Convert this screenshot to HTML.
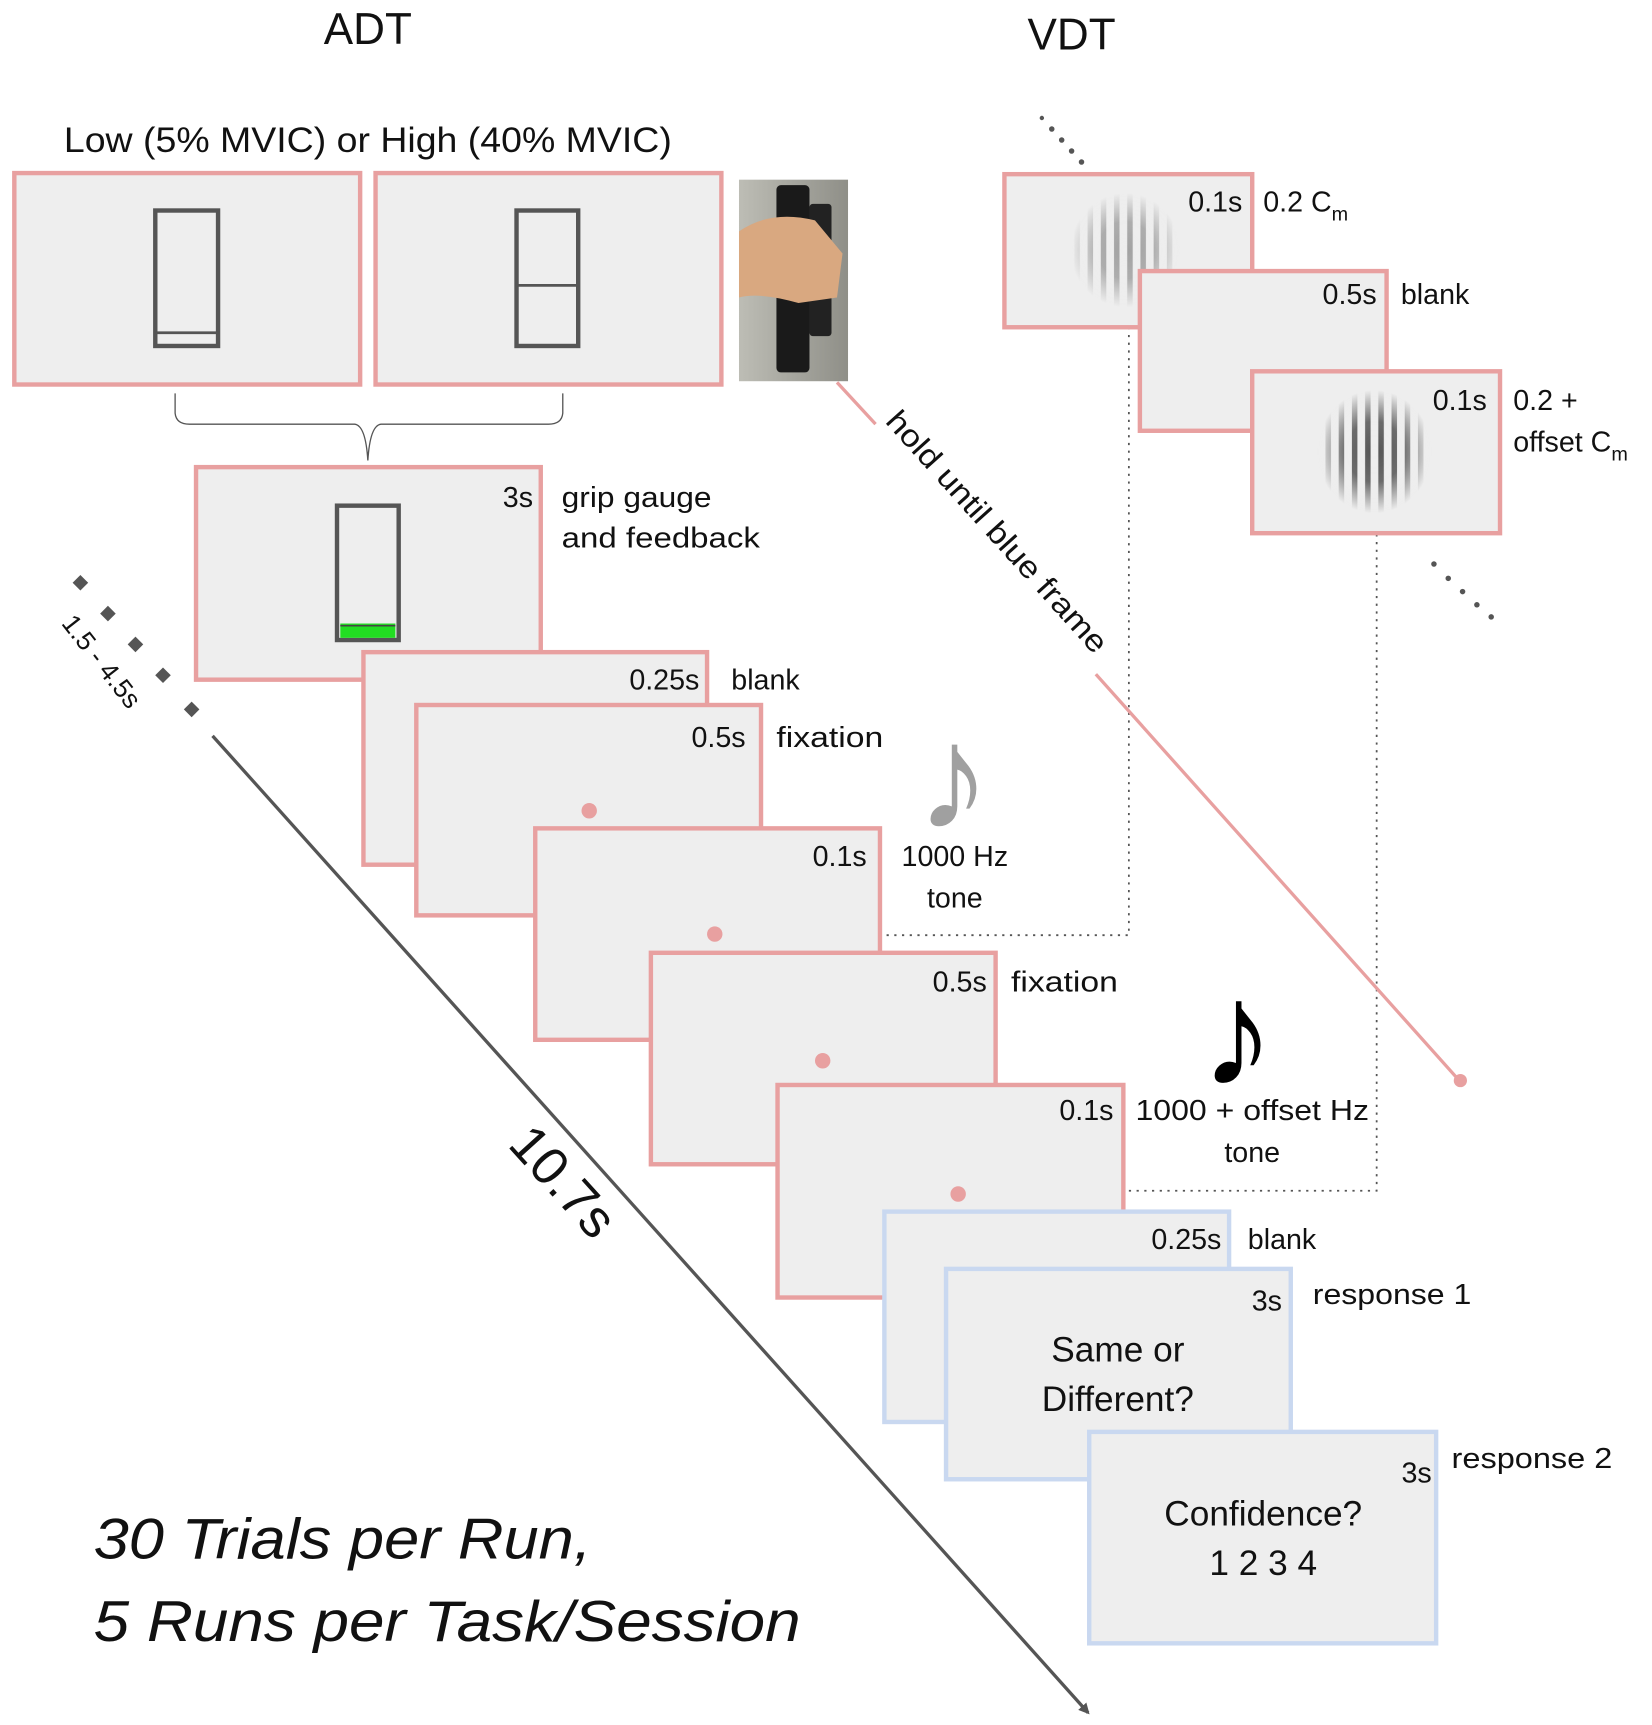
<!DOCTYPE html>
<html><head><meta charset="utf-8"><style>
html,body{margin:0;padding:0;background:#fff;}
svg{display:block;}
text{font-family:"Liberation Sans","DejaVu Sans",sans-serif;fill:#111;}
</style></head><body>
<svg width="1652" height="1725" viewBox="0 0 1500 1566" xmlns="http://www.w3.org/2000/svg">
<defs>
<pattern id="stripes" width="12" height="20" patternUnits="userSpaceOnUse">
<rect width="12" height="20" fill="#eee"/>
<rect x="3.5" width="5" height="20" fill="#444"/>
</pattern>
<radialGradient id="fade"><stop offset="0" stop-color="#fff" stop-opacity="1"/><stop offset="0.5" stop-color="#fff" stop-opacity="0.85"/><stop offset="1" stop-color="#fff" stop-opacity="0"/></radialGradient>
<mask id="m1" maskContentUnits="objectBoundingBox"><rect width="1" height="1" fill="url(#fade)"/></mask>
<linearGradient id="photo" x1="0" x2="1"><stop offset="0" stop-color="#bdbdb5"/><stop offset="1" stop-color="#8f8f88"/></linearGradient>
<marker id="arr" markerWidth="10" markerHeight="10" refX="8" refY="5" orient="auto" markerUnits="userSpaceOnUse"><path d="M0,0 L10,5 L0,10 z" fill="#555"/></marker>
</defs>

<text x="334" y="40" font-size="40" text-anchor="middle">ADT</text>
<text x="973" y="45" font-size="40" text-anchor="middle">VDT</text>
<text x="58" y="138" font-size="32" textLength="552" lengthAdjust="spacingAndGlyphs">Low (5% MVIC) or High (40% MVIC)</text>

<g fill="#eeeeee" stroke="#e8a0a0" stroke-width="4">
<rect x="13" y="157" width="314" height="192"/>
<rect x="341" y="157" width="314" height="192"/>
</g>
<g fill="none" stroke="#555" stroke-width="4">
<rect x="141" y="191" width="57" height="123"/><line x1="141" y1="302" x2="198" y2="302" stroke-width="2.5"/>
<rect x="469" y="191" width="56" height="123"/><line x1="469" y1="259" x2="525" y2="259" stroke-width="2.5"/>
</g>
<rect x="671" y="163" width="99" height="183" fill="url(#photo)"/>
<rect x="705" y="168" width="30" height="170" fill="#1a1a1a" rx="4"/>
<rect x="735" y="185" width="20" height="120" fill="#222" rx="3"/>
<path d="M671,210 Q700,190 740,200 L765,230 L760,270 L725,275 Q690,265 671,270 z" fill="#d9a880"/>

<path d="M159,357 L159,375 Q160,385 172,385 L322,385 Q332,386 334,418 Q336,386 346,385 L498,385 Q510,385 511,375 L511,357" fill="none" stroke="#555" stroke-width="1.2"/>

<g fill="none" stroke="#555" stroke-width="1.6" stroke-dasharray="2,5">
<path d="M1025,297 L1025,849 L803,849"/>
<path d="M1250,485 L1250,1081 L1020,1081"/>
</g>

<rect x="912" y="158" width="225" height="139" fill="#eeeeee" stroke="#e8a0a0" stroke-width="4"/>
<g mask="url(#m1)"><ellipse cx="1022" cy="227" rx="50" ry="52" fill="url(#stripes)" opacity="0.45"/></g>
<rect x="1035" y="246" width="224" height="145" fill="#eee" stroke="#e8a0a0" stroke-width="4"/>
<rect x="1137" y="337" width="225" height="147" fill="#eee" stroke="#e8a0a0" stroke-width="4"/>
<g mask="url(#m1)"><ellipse cx="1248" cy="410" rx="52" ry="56" fill="url(#stripes)" opacity="0.9"/></g>
<text x="1128" y="192" font-size="26" text-anchor="end">0.1s</text>
<text x="1147" y="192" font-size="26">0.2 C<tspan font-size="18" dy="8">m</tspan></text>
<text x="1250" y="276" font-size="26" text-anchor="end">0.5s</text>
<text x="1272" y="276" font-size="26">blank</text>
<text x="1350" y="372" font-size="26" text-anchor="end">0.1s</text>
<text x="1374" y="372" font-size="26">0.2 +</text>
<text x="1374" y="410" font-size="26">offset C<tspan font-size="18" dy="8">m</tspan></text>
<g fill="#555">
<circle cx="946" cy="107" r="2"/><circle cx="955" cy="117" r="2.5"/><circle cx="964" cy="127" r="2.5"/><circle cx="973" cy="137" r="2.5"/><circle cx="982" cy="147" r="2.5"/>
<circle cx="1302" cy="512" r="2.5"/><circle cx="1315" cy="525" r="2.5"/><circle cx="1328" cy="537" r="2.5"/><circle cx="1341" cy="549" r="2.5"/><circle cx="1354" cy="560" r="2.5"/>
</g>

<line x1="760" y1="347" x2="795" y2="385" stroke="#e8a0a0" stroke-width="3"/>
<line x1="995" y1="612" x2="1325" y2="981" stroke="#e8a0a0" stroke-width="3"/>
<circle cx="1326" cy="981" r="6" fill="#e8a0a0"/>
<text x="0" y="0" font-size="28" textLength="285" lengthAdjust="spacingAndGlyphs" transform="translate(803,383) rotate(48)">hold until blue frame</text>

<rect x="178" y="424" width="313" height="193" fill="#eeeeee" stroke="#e8a0a0" stroke-width="4"/>
<rect x="306" y="459" width="56" height="122" fill="none" stroke="#555" stroke-width="4"/>
<rect x="309" y="566" width="50" height="13" fill="#22dd22"/>
<line x1="309" y1="568" x2="359" y2="568" stroke="#444" stroke-width="1.5"/>
<text x="484" y="460" font-size="26" text-anchor="end">3s</text>
<text x="510" y="460" font-size="26" textLength="136" lengthAdjust="spacingAndGlyphs">grip gauge</text>
<text x="510" y="497" font-size="26" textLength="180" lengthAdjust="spacingAndGlyphs">and feedback</text>

<rect x="330" y="592" width="312" height="193" fill="#eee" stroke="#e8a0a0" stroke-width="4"/>
<text x="635" y="626" font-size="26" text-anchor="end">0.25s</text>
<text x="664" y="626" font-size="26">blank</text>
<rect x="378" y="640" width="313" height="191" fill="#eee" stroke="#e8a0a0" stroke-width="4"/>
<circle cx="535" cy="736" r="7" fill="#e8a0a0"/>
<text x="677" y="678" font-size="26" text-anchor="end">0.5s</text>
<text x="705" y="678" font-size="26" textLength="97" lengthAdjust="spacingAndGlyphs">fixation</text>
<rect x="486" y="752" width="313" height="192" fill="#eee" stroke="#e8a0a0" stroke-width="4"/>
<circle cx="649" cy="848" r="7" fill="#e8a0a0"/>
<text x="787" y="786" font-size="26" text-anchor="end">0.1s</text>
<text x="867" y="786" font-size="26" text-anchor="middle">1000 Hz</text>
<text x="867" y="824" font-size="26" text-anchor="middle">tone</text>
<text x="832" y="752" font-size="135" style="fill:#a0a0a0">♪</text>
<rect x="591" y="865" width="313" height="192" fill="#eee" stroke="#e8a0a0" stroke-width="4"/>
<circle cx="747" cy="963" r="7" fill="#e8a0a0"/>
<text x="896" y="900" font-size="26" text-anchor="end">0.5s</text>
<text x="918" y="900" font-size="26" textLength="97" lengthAdjust="spacingAndGlyphs">fixation</text>
<rect x="706" y="985" width="314" height="193" fill="#eee" stroke="#e8a0a0" stroke-width="4"/>
<circle cx="870" cy="1084" r="7" fill="#e8a0a0"/>
<text x="1011" y="1017" font-size="26" text-anchor="end">0.1s</text>
<text x="1137" y="1017" font-size="26" text-anchor="middle" textLength="212" lengthAdjust="spacingAndGlyphs">1000 + offset Hz</text>
<text x="1137" y="1055" font-size="26" text-anchor="middle">tone</text>
<text x="1090" y="985" font-size="135" style="fill:#000">♪</text>

<rect x="803" y="1100" width="313" height="191" fill="#eee" stroke="#c9d8f0" stroke-width="4"/>
<text x="1109" y="1134" font-size="26" text-anchor="end">0.25s</text>
<text x="1133" y="1134" font-size="26">blank</text>
<rect x="859" y="1152" width="313" height="191" fill="#eee" stroke="#c9d8f0" stroke-width="4"/>
<text x="1164" y="1190" font-size="26" text-anchor="end">3s</text>
<text x="1192" y="1184" font-size="26" textLength="144" lengthAdjust="spacingAndGlyphs">response 1</text>
<text x="1015" y="1236" font-size="32" text-anchor="middle">Same or</text>
<text x="1015" y="1281" font-size="32" text-anchor="middle">Different?</text>
<rect x="989" y="1300" width="315" height="192" fill="#eee" stroke="#c9d8f0" stroke-width="4"/>
<text x="1300" y="1346" font-size="26" text-anchor="end">3s</text>
<text x="1318" y="1333" font-size="26" textLength="146" lengthAdjust="spacingAndGlyphs">response 2</text>
<text x="1147" y="1385" font-size="32" text-anchor="middle">Confidence?</text>
<text x="1147" y="1430" font-size="32" text-anchor="middle">1 2 3 4</text>

<g fill="#555">
<rect x="-5" y="-5" width="10" height="10" transform="translate(73,529) rotate(45)"/>
<rect x="-5" y="-5" width="10" height="10" transform="translate(98,557) rotate(45)"/>
<rect x="-5" y="-5" width="10" height="10" transform="translate(123,585) rotate(45)"/>
<rect x="-5" y="-5" width="10" height="10" transform="translate(148,613) rotate(45)"/>
<rect x="-5" y="-5" width="10" height="10" transform="translate(174,644) rotate(45)"/>
</g>
<text x="0" y="0" font-size="24" transform="translate(55,566) rotate(52)">1.5 - 4.5s</text>
<line x1="193" y1="668" x2="988" y2="1555" stroke="#555" stroke-width="3" marker-end="url(#arr)"/>
<text x="0" y="0" font-size="48" transform="translate(460,1040) rotate(48)">10.7s</text>

<text x="85" y="1415" font-size="52" font-style="italic" textLength="452" lengthAdjust="spacingAndGlyphs">30 Trials per Run,</text>
<text x="85" y="1490" font-size="52" font-style="italic" textLength="642" lengthAdjust="spacingAndGlyphs">5 Runs per Task/Session</text>
</svg>
</body></html>
